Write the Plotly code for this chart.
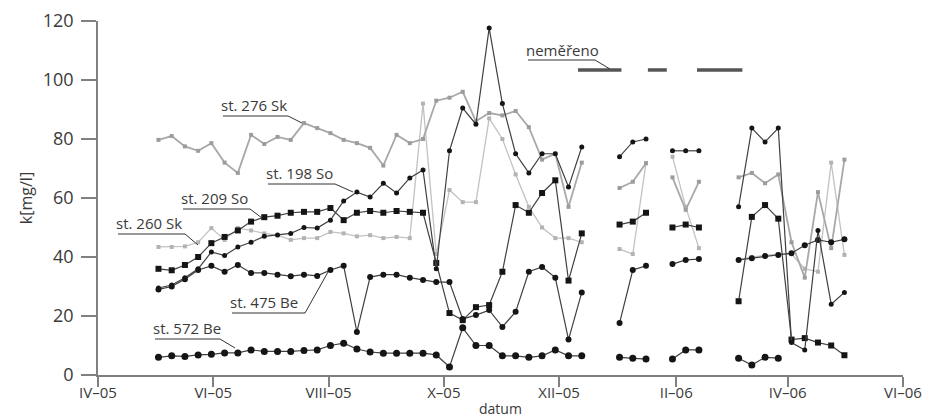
import plotly.graph_objects as go

# ---------------- data ----------------
dates_2005 = ["2005-05-03", "2005-05-10", "2005-05-17", "2005-05-24", "2005-05-31",
              "2005-06-07", "2005-06-14", "2005-06-21", "2005-06-28",
              "2005-07-05", "2005-07-12", "2005-07-19", "2005-07-26",
              "2005-08-02", "2005-08-09", "2005-08-16", "2005-08-23", "2005-08-30",
              "2005-09-06", "2005-09-13", "2005-09-20", "2005-09-27",
              "2005-10-04", "2005-10-11", "2005-10-18", "2005-10-25",
              "2005-11-01", "2005-11-08", "2005-11-15", "2005-11-22", "2005-11-29",
              "2005-12-06", "2005-12-13"]
dates_jan = ["2006-01-02", "2006-01-09", "2006-01-16"]
dates_feb = ["2006-01-30", "2006-02-06", "2006-02-13"]
dates_spr = ["2006-03-06", "2006-03-13", "2006-03-20", "2006-03-27",
             "2006-04-03", "2006-04-10", "2006-04-17", "2006-04-24", "2006-05-01"]

st276_2005 = [79.7, 81, 77.5, 76, 78.6, 72, 68.5, 81.4, 78.3, 80.7, 79.7, 85.4, 83.7,
              82, 79.7, 78.6, 77, 71, 81.4, 78.6, 80, 93, 94, 96, 86, 88.8, 88, 89.5,
              84, 73, 75, 57, 72]
st276_jan = [63.4, 65.5, 71.8]
st276_feb = [67, 56, 65.5]
st276_spr = [67, 68.5, 65, 68, 45, 33, 62, 43, 73]

st260_2005 = [43.4, 43.4, 43.6, 45, 49.8, 45.8, 49.8, 49, 48, 47.4, 45.8, 46.4, 46.4,
              48.5, 48, 47, 47.4, 46.4, 46.8, 46.4, 92, 41, 62.7, 58.6, 58.6, 87, 80,
              68, 57, 50, 46.4, 46.4, 45]
st260_jan = [42.7, 41, 71.8]
st260_feb = [74, 57, 43]
st260_spr = [39, 40, 40.5, 41, 41, 36, 35, 72, 40.7]

st198_2005 = [29.5, 30.5, 33, 36, 41.7, 40.5, 43.4, 45, 47, 47.5, 48, 50, 49.8,
              52.5, 59, 62, 60.3, 65, 61.7, 66.8, 69.5, 36, 76, 90.5, 85, 117.6, 92,
              75, 68.5, 75, 75, 63.7, 77.3]
st198_jan = [74, 79, 80]
st198_feb = [76, 76, 76]
st198_spr = [57, 83.7, 79, 83.7, 11, 8.5, 49, 24, 28]

st209_2005 = [36, 35.5, 37.3, 40, 44.7, 46.8, 49, 52, 53.5, 54, 55, 55.3, 55.3,
              56.6, 52.5, 55, 55.6, 55, 55.6, 55.3, 55, 38, 21, 18.6, 23, 23.7, 35,
              57.6, 55, 61.7, 66, 32, 48]
st209_jan = [51, 52, 55]
st209_feb = [50, 51, 50]
st209_spr = [25, 53.6, 57.6, 53, 12, 12.5, 11, 10, 6.7]

st475_2005 = [29, 30, 32.5, 35.6, 37, 35, 37.3, 34.6, 34.6, 34, 33.5, 34, 33.6,
              35.6, 37, 14.6, 33.2, 34, 34, 33, 32.2, 31.5, 31.5, 19, 20.3, 22, 16.3,
              21.4, 35, 36.6, 33, 12, 28]
st475_jan = [17.6, 35.6, 37]
st475_feb = [37.6, 39, 39.3]
st475_spr = [39, 39.6, 40.3, 40.7, 41.3, 44, 45.8, 45, 46]

st572_2005 = [6, 6.5, 6.3, 6.8, 7, 7.5, 7.5, 8.5, 8, 8, 8, 8.3, 8.5, 10, 10.8, 8.8,
              7.8, 7.4, 7.4, 7.4, 7.4, 6.8, 2.7, 16, 10, 10, 6.5, 6.5, 6, 6.5, 8.5,
              6.5, 6.5]
st572_jan = [6, 5.7, 5.4]
st572_feb = [5.4, 8.5, 8.5]
st572_spr = [5.7, 3.4, 6, 5.7, None, None, None, None, None]

# periods without measurement ("neměřeno")
gap_start = ["2005-12-11", "2006-01-17", "2006-02-12"]
gap_end = ["2006-01-03", "2006-01-27", "2006-03-08"]
gap_level = 103.4

tick_dates = ["2005-04-01", "2005-06-01", "2005-08-01", "2005-10-01",
              "2005-12-01", "2006-02-01", "2006-04-01", "2006-06-01"]
tick_text = ["IV–05", "VI–05", "VIII–05", "X–05", "XII–05", "II–06", "IV–06", "VI–06"]
y_ticks = [0, 20, 40, 60, 80, 100, 120]

# ---------------- figure ----------------
FONT = "Open Sans, Noto Sans, sans-serif"
TXT = "#3a3a3a"

W, H = 927, 418
# plot area in window pixels
L, R, T, B = 98, 903, 21, 375


def join(*parts):
    xs, ys = [], []
    for i, (d, v) in enumerate(parts):
        if i:
            xs.append(None)
            ys.append(None)
        xs += d
        ys += v
    return xs, ys


series = [
    ("st. 260 Sk", (st260_2005, st260_jan, st260_feb, st260_spr), "#c2c2c2", 1.3, "#b3b3b3", "square", 4),
    ("st. 276 Sk", (st276_2005, st276_jan, st276_feb, st276_spr), "#a8a8a8", 1.8, "#9c9c9c", "square", 4),
    ("st. 572 Be", (st572_2005, st572_jan, st572_feb, st572_spr), "#404040", 1.2, "#151515", "circle", 7),
    ("st. 475 Be", (st475_2005, st475_jan, st475_feb, st475_spr), "#404040", 1.2, "#151515", "circle", 6),
    ("st. 209 So", (st209_2005, st209_jan, st209_feb, st209_spr), "#404040", 1.2, "#151515", "square", 6),
    ("st. 198 So", (st198_2005, st198_jan, st198_feb, st198_spr), "#404040", 1.2, "#151515", "circle", 5),
]

fig = go.Figure()
for name, vals, lc, lw, mc, sym, ms in series:
    xs, ys = join((dates_2005, vals[0]), (dates_jan, vals[1]),
                  (dates_feb, vals[2]), (dates_spr, vals[3]))
    fig.add_trace(go.Scatter(x=xs, y=ys, name=name, mode="lines+markers",
                             connectgaps=False,
                             line=dict(color=lc, width=lw),
                             marker=dict(color=mc, symbol=sym, size=ms),
                             showlegend=False))

gx, gy = [], []
for s, e in zip(gap_start, gap_end):
    gx += [s, e, None]
    gy += [gap_level, gap_level, None]
fig.add_trace(go.Scatter(x=gx, y=gy, mode="lines", line=dict(color="#555555", width=3.5),
                         showlegend=False, hoverinfo="skip"))


def px(x):
    return (x - L) / (R - L)


def py(y):
    return (B - y) / (B - T)


labels = [
    # text, text left x, text centre y, underline y, underline end x, leader end (x, y)
    ("st. 276 Sk", 222, 105, 116, 288, (302, 123)),
    ("st. 198 So", 267, 173, 184, 335, (353, 192)),
    ("st. 209 So", 182, 198, 209, 250, (262, 218)),
    ("st. 260 Sk", 117, 223, 234, 185, (198, 245)),
    ("st. 475 Be", 231, 302, 313, 305, (328, 272)),
    ("st. 572 Be", 154, 328, 339, 220, (235, 348)),
    ("neměřeno", 527, 50, 60, 595, (610, 69)),
]
shapes = []
annotations = []
for text, tx, ty, uy, ux, (ex, ey) in labels:
    annotations.append(dict(text=text, x=px(tx - 3), y=py(ty), xref="paper", yref="paper",
                            xanchor="left", yanchor="middle", showarrow=False,
                            font=dict(family=FONT, size=15, color=TXT)))
    shapes.append(dict(type="line", xref="paper", yref="paper",
                       x0=px(tx + 1), y0=py(uy), x1=px(ux), y1=py(uy),
                       line=dict(color="#333333", width=1)))
    shapes.append(dict(type="line", xref="paper", yref="paper",
                       x0=px(ux), y0=py(uy), x1=px(ex), y1=py(ey),
                       line=dict(color="#333333", width=1)))

# x-axis title placed just under the tick labels
annotations.append(dict(text="datum", x=0.5, y=py(408), xref="paper", yref="paper",
                        xanchor="center", yanchor="middle", showarrow=False,
                        font=dict(family=FONT, size=14, color=TXT)))

fig.update_layout(
    width=W, height=H,
    margin=dict(l=L, r=W - R, t=T, b=H - B, autoexpand=False),
    paper_bgcolor="white", plot_bgcolor="white",
    font=dict(family=FONT, color=TXT),
    shapes=shapes, annotations=annotations,
    xaxis=dict(type="date", range=["2005-04-01", "2006-06-01"], automargin=False,
               tickmode="array", tickvals=tick_dates, ticktext=tick_text,
               showline=True, linecolor="#808080", linewidth=1.5,
               ticks="outside", ticklen=10, tickcolor="#808080", tickwidth=1.5,
               showgrid=False, zeroline=False, ticklabelstandoff=-7,
               tickfont=dict(family=FONT, size=15, color=TXT)),
    yaxis=dict(range=[0, 120], tickmode="array", tickvals=y_ticks, automargin=False,
               showline=True, linecolor="#808080", linewidth=1.5,
               ticks="outside", ticklen=15, tickcolor="#808080", tickwidth=1.5,
               showgrid=False, zeroline=False, ticklabelstandoff=4,
               tickfont=dict(family=FONT, size=18, color=TXT),
               title=dict(text="k[mg/l]", font=dict(family=FONT, size=16, color=TXT),
                          standoff=6)),
)

# remove the default page margin so the 927x418 figure fills the window exactly
fig.write_html("out.html",
               config={"displayModeBar": False},
               post_script="document.body.style.margin='0';"
                           "document.body.style.overflow='hidden';")
